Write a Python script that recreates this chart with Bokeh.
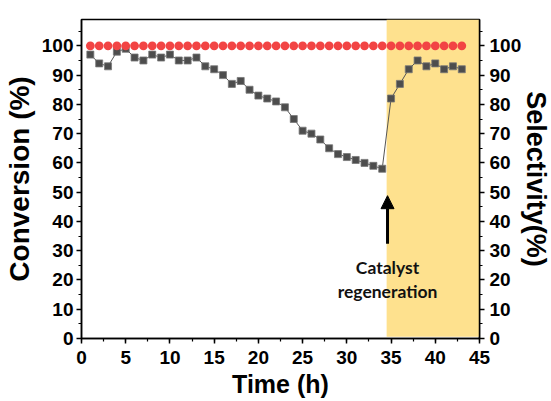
from bokeh.plotting import figure
from bokeh.models import (LinearAxis, Range1d, BoxAnnotation, Arrow, NormalHead,
                          ColumnDataSource, SingleIntervalTicker)
from bokeh.core.properties import value
from bokeh.embed import file_html
from bokeh.resources import INLINE

# ---- data ----
time_sel = list(range(1, 44))
selectivity = [100] * 43

time_conv = list(range(1, 44))
conversion = [97, 94, 93, 98, 99, 96, 95, 97, 96, 97, 95, 95, 96, 93, 92, 90, 87, 88, 85, 83,
              82, 81, 79, 75, 71, 70, 68, 65, 63, 62, 61, 60, 59, 58,
              82, 87, 92, 95, 93, 94, 92, 93, 92]

regen_start = 34.5
regen_end = 45
arrow_x = 34.6
arrow_y_start = 32.4
arrow_y_end = 48.8
note_lines = ["Catalyst", "regeneration"]
note_y = [24.2, 16.1]

x_ticks_major = 5
y_ticks_major = 10

p = figure(frame_width=398, frame_height=319,
           x_range=Range1d(0, 45), y_range=Range1d(0, 109),
           output_backend="svg", toolbar_location=None,
           min_border_left=73, min_border_right=64, min_border_top=19, min_border_bottom=63,
           background_fill_color="white", border_fill_color="white")
p.xgrid.visible = False
p.ygrid.visible = False
p.outline_line_color = "black"
p.outline_line_width = 1.5

# shaded regeneration region
p.add_layout(BoxAnnotation(left=regen_start, right=regen_end, bottom=0.6,
                           fill_color="#FEE18E", fill_alpha=1.0, line_color=None, level="underlay"))

src_c = ColumnDataSource(dict(t=time_conv, c=conversion))
src_s = ColumnDataSource(dict(t=time_sel, s=selectivity))
p.line("t", "c", source=src_c, line_color="#555555", line_width=1)
p.scatter("t", "c", source=src_c, marker="square", size=7, fill_color="#4d4d4d",
          line_color="#777777", line_width=0.8)
p.scatter("t", "s", source=src_s, marker="circle", size=8.8, fill_color="#F24444",
          line_color="#F24444", line_width=0)

p.add_layout(Arrow(end=NormalHead(size=13, fill_color="black", line_color="black"),
                   x_start=arrow_x, y_start=arrow_y_start, x_end=arrow_x, y_end=arrow_y_end,
                   line_width=3, line_color="black"))

src_t = ColumnDataSource(dict(x=[arrow_x] * len(note_lines), y=note_y, t=note_lines))
p.text("x", "y", text="t", source=src_t, text_font=value("Lato"), text_font_style="bold",
       text_font_size="17.5px", text_align="center", text_baseline="middle", text_color="#111111")

right_axis = LinearAxis()
p.add_layout(right_axis, "right")

for ax in [p.xaxis[0], p.yaxis[0], right_axis]:
    ax.axis_line_width = 1.5
    ax.axis_line_color = "black"
    ax.major_tick_in = 0
    ax.major_tick_out = 5
    ax.minor_tick_in = 0
    ax.minor_tick_out = 3
    ax.major_tick_line_width = 1.5
    ax.minor_tick_line_width = 1.2
    ax.major_label_text_font = "Liberation Sans"
    ax.major_label_text_font_style = "bold"
    ax.major_label_text_font_size = "19px"
    ax.major_label_text_color = "black"
    ax.axis_label_text_font = "Liberation Sans"
    ax.axis_label_text_font_style = "bold"
    ax.axis_label_text_color = "black"

p.xaxis[0].ticker = SingleIntervalTicker(interval=x_ticks_major, num_minor_ticks=2)
p.yaxis[0].ticker = SingleIntervalTicker(interval=y_ticks_major, num_minor_ticks=2)
right_axis.ticker = SingleIntervalTicker(interval=y_ticks_major, num_minor_ticks=2)

p.xaxis[0].axis_label = "Time (h)"
p.xaxis[0].axis_label_text_font_size = "25px"
p.xaxis[0].major_label_standoff = 7
p.xaxis[0].axis_label_standoff = 3

p.yaxis[0].axis_label = "Conversion (%)"
p.yaxis[0].axis_label_text_font_size = "28px"
p.yaxis[0].major_label_standoff = 3
p.yaxis[0].axis_label_standoff = 4

right_axis.axis_label = "Selectivity(%)"
right_axis.axis_label_text_font_size = "27px"
right_axis.major_label_standoff = 5
right_axis.axis_label_standoff = -3

open("out.html", "w").write(file_html(p, INLINE))
